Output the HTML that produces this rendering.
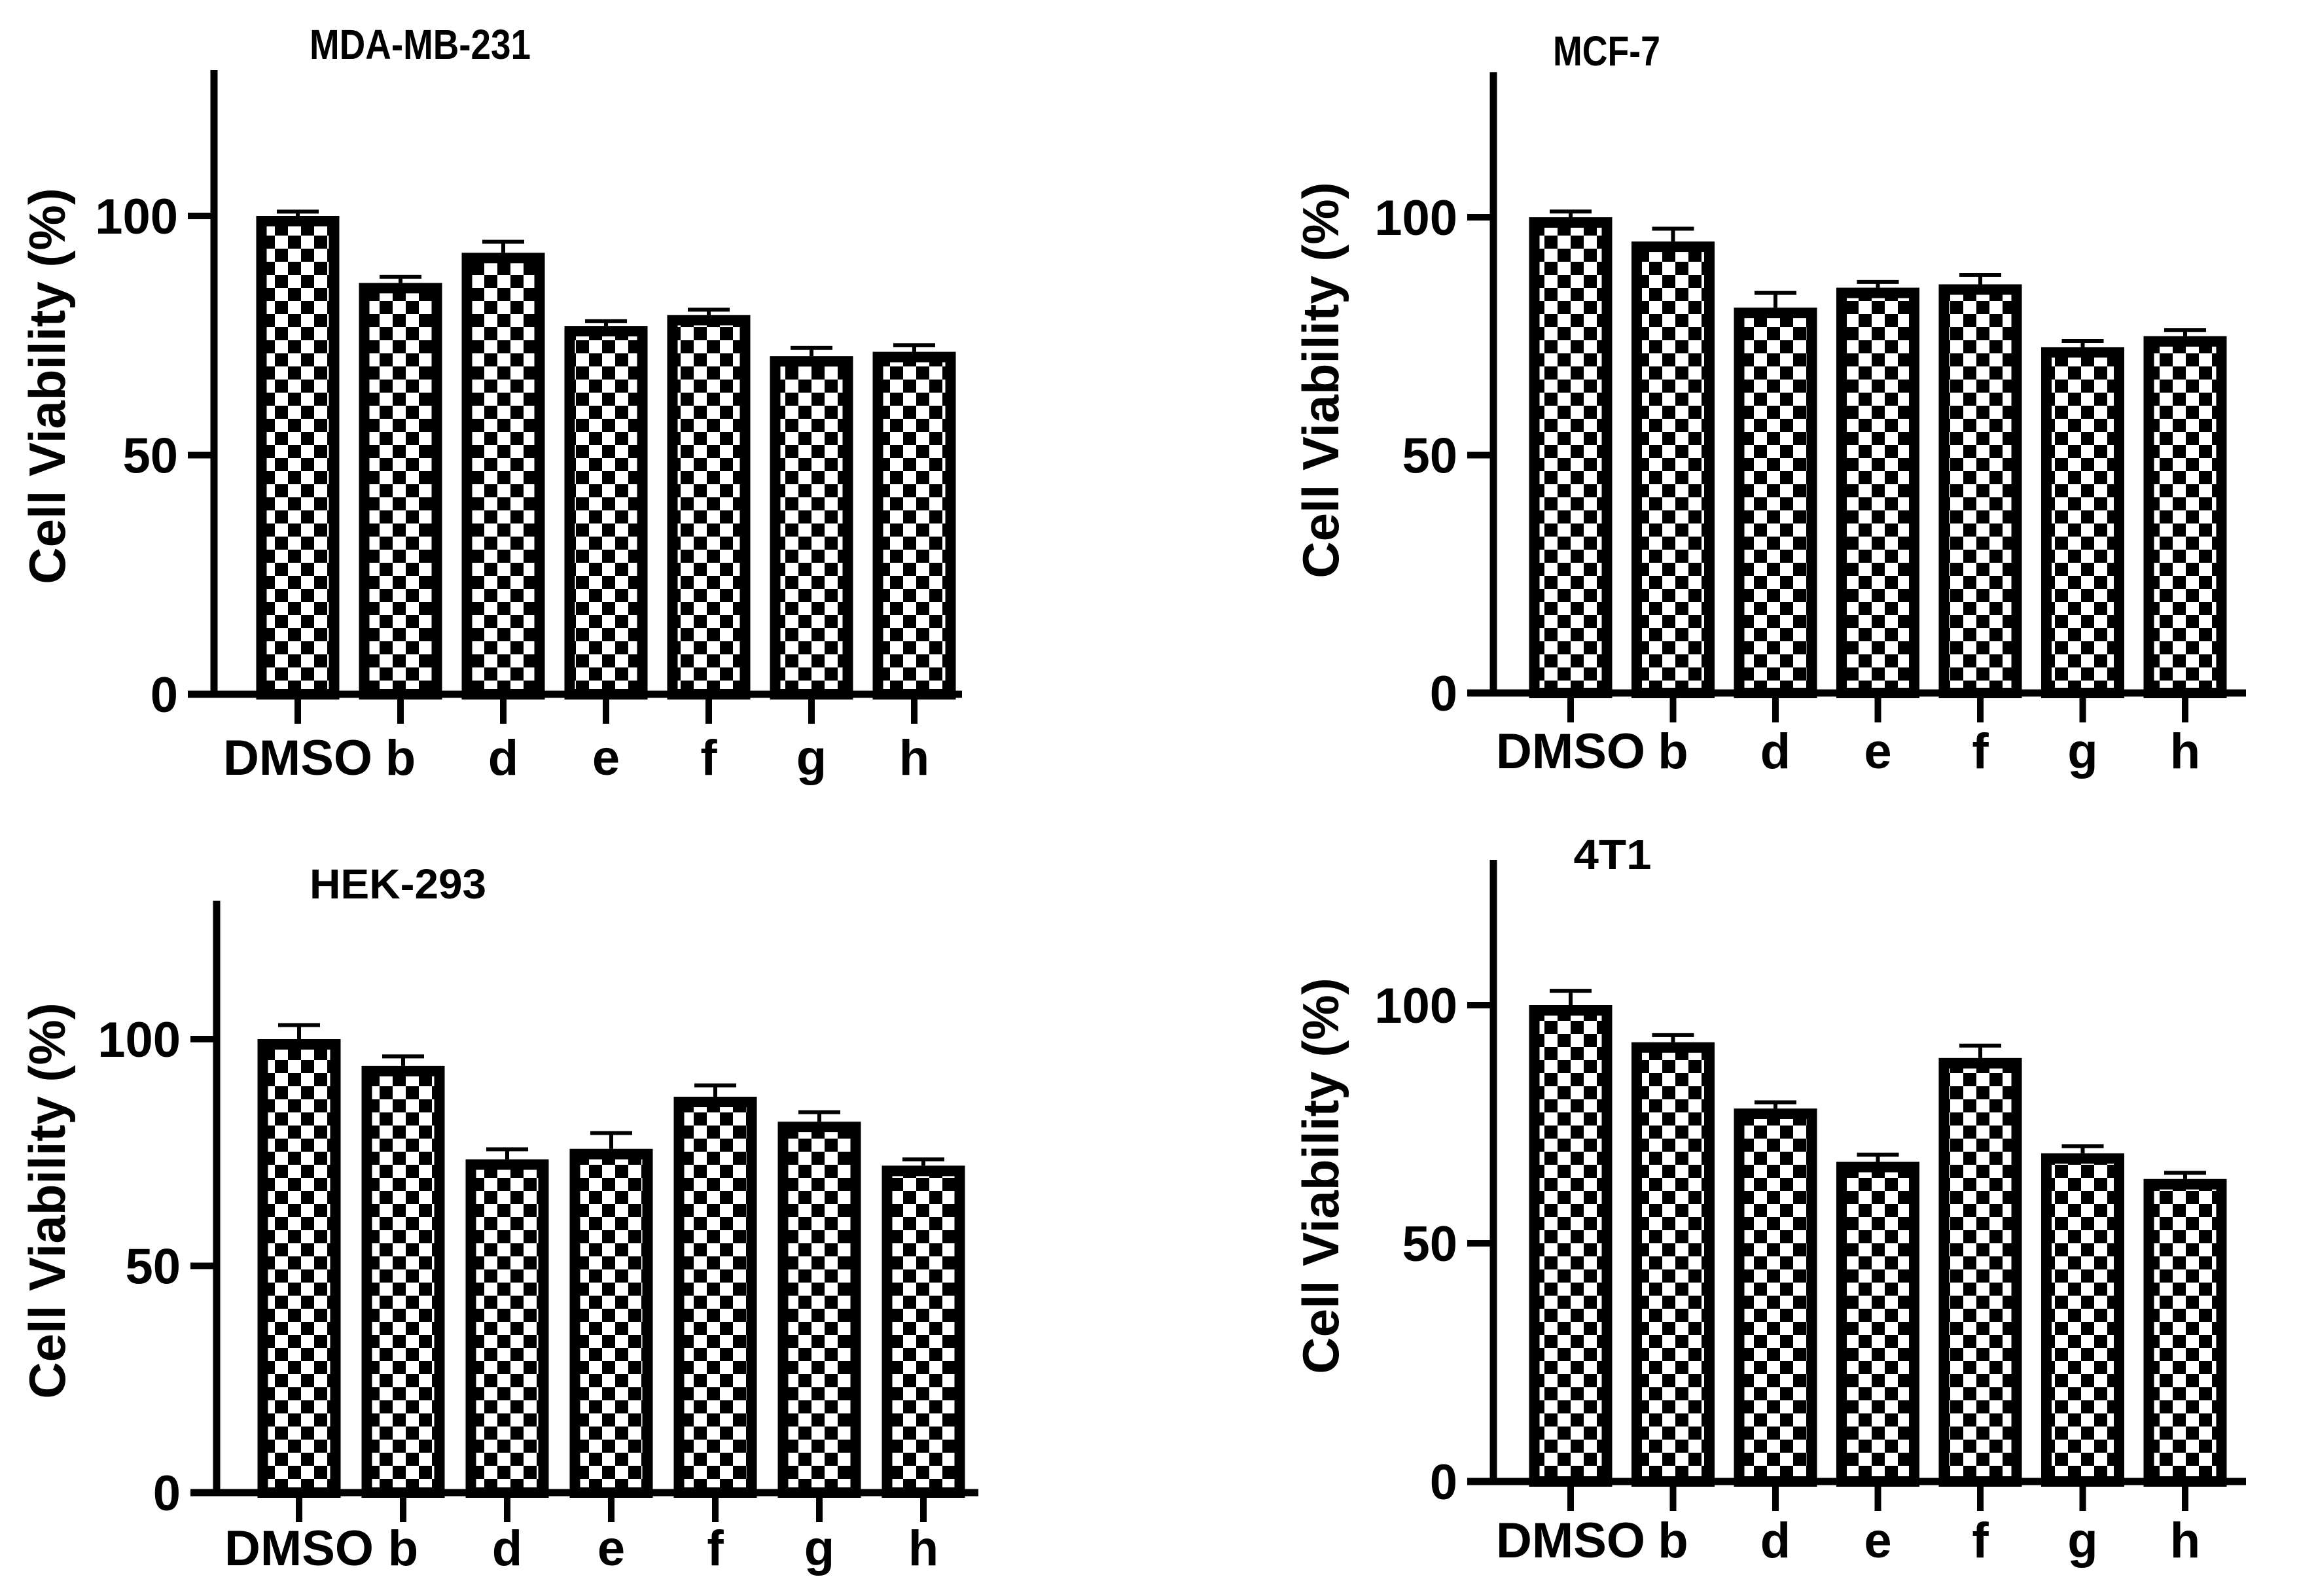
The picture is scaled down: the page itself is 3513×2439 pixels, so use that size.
<!DOCTYPE html>
<html><head><meta charset="utf-8"><style>
html,body{margin:0;padding:0;background:#fff;}
svg{display:block;}
text{font-family:"Liberation Sans",Arial,sans-serif;font-weight:bold;fill:#000;}
</style></head><body>
<svg id="fig" width="3513" height="2439" viewBox="0 0 3513 2439" xmlns="http://www.w3.org/2000/svg">
<defs>
<pattern id="checker" patternUnits="userSpaceOnUse" width="40" height="40">
<rect x="0" y="0" width="40" height="40" fill="#fff"/>
<rect x="0" y="0" width="20" height="20" fill="#000"/>
<rect x="20" y="20" width="20" height="20" fill="#000"/>
</pattern>
</defs>
</svg>
<script>
const categories = ["DMSO","b","d","e","f","g","h"];
const yTicks = [0,50,100];
const titles = ["MDA-MB-231","MCF-7","HEK-293","4T1"];
const mdaValues = [100,86.0,92.3,77.0,79.3,70.7,71.6];
const mdaErrors = [0.9,1.3,2.3,1.0,1.1,1.7,1.4];
const mcfValues = [100,94.9,81.0,85.2,85.9,72.7,75.0];
const mcfErrors = [1.2,2.7,3.1,1.2,2.0,1.3,1.3];
const hekValues = [100,94.1,73.5,75.8,87.3,81.8,72.1];
const hekErrors = [3.1,2.1,2.2,3.5,2.5,2.1,1.4];
const t41Values = [100,92.2,78.3,67.1,88.9,68.9,63.5];
const t41Errors = [3.0,1.5,1.3,1.5,2.6,1.5,1.3];

const NS = "http://www.w3.org/2000/svg";
const svg = document.getElementById('fig');
function mk(tag, attrs, parent){
  const e = document.createElementNS(NS, tag);
  for (const k in attrs) e.setAttribute(k, attrs[k]);
  parent.appendChild(e);
  return e;
}
const layouts = [
  {ax:327, base:1061, y100:330, x0:455, step:157, xEnd:1470, tx:642, ty:90, tw:338, ytx:72, yty:590, ly:1184, key:"mda"},
  {ax:2282, base:1059, y100:332, x0:2400, step:156.5, xEnd:3432, tx:2455, ty:100, tw:164, ytx:2018, yty:581, ly:1174, key:"mcf"},
  {ax:331, base:2281, y100:1588, x0:457, step:159, xEnd:1495, tx:608, ty:1373, tw:270, ytx:72, yty:1835, ly:2392, key:"hek"},
  {ax:2282, base:2264, y100:1536, x0:2400, step:156.5, xEnd:3432, tx:2464, ty:1328, tw:119, ytx:2018, yty:1797, ly:2380, key:"t41"}
];
const seriesVals = [mdaValues, mcfValues, hekValues, t41Values];
const seriesErrs = [mdaErrors, mcfErrors, hekErrors, t41Errors];

layouts.forEach((L, p) => {
  const g = mk('g', {}, svg);
  
  
  const ppu = (L.base - L.y100) / 100;
  const yS = v => L.base - v * ppu;
  const xS = i => L.x0 + i * L.step;
  const vals = seriesVals[p], errs = seriesErrs[p];
  vals.forEach((v, i) => {
    const cx = xS(i), w = 127, sw = 16;
    const top = yS(v);
    const eTop = yS(v + errs[i]);
    const eb = mk('line', {x1:cx, x2:cx, y1:top, y2:eTop, stroke:'#000', 'stroke-width':6}, g);
    
    
    const cap = mk('line', {x1:cx-32, x2:cx+32, y1:eTop, y2:eTop, stroke:'#000', 'stroke-width':6}, g);
    
    
    const r = mk('rect', {x:cx - w/2 + sw/2, y:top + sw/2, width:w - sw, height:Math.max(0, L.base - top - sw/2), fill:'url(#checker)', stroke:'#000', 'stroke-width':sw}, g);
    
    
    const tk = mk('line', {x1:cx, x2:cx, y1:L.base, y2:L.base + 45, stroke:'#000', 'stroke-width':10}, g);
    
    
    const lb = mk('text', {x:cx, y:L.ly, 'font-size':76, 'text-anchor':'middle'}, g);
    lb.textContent = categories[i];
    
    
  });
  const ya = mk('line', {x1:L.ax, x2:L.ax, y1:yS(130.5), y2:L.base + 5, stroke:'#000', 'stroke-width':11}, g);
  
  
  const xa = mk('line', {x1:L.ax - 40, x2:L.xEnd, y1:L.base, y2:L.base, stroke:'#000', 'stroke-width':11}, g);
  
  
  yTicks.forEach(t => {
    const y = yS(t);
    const tl = mk('line', {x1:L.ax - 40, x2:L.ax, y1:y, y2:y, stroke:'#000', 'stroke-width':10}, g);
    
    
    const tt = mk('text', {x:L.ax - 55, y:y + 27, 'font-size':76, 'text-anchor':'end'}, g);
    tt.textContent = String(t);
    
    
  });
  const yt = mk('text', {x:0, y:0, 'font-size':78, 'text-anchor':'middle', transform:'translate(' + (L.ytx + 27) + ',' + L.yty + ') rotate(-90)'}, g);
  yt.textContent = 'Cell Viability (%)';
  
  
  const ti = mk('text', {x:L.tx, y:L.ty, 'font-size':64, 'text-anchor':'middle', textLength:L.tw, lengthAdjust:'spacingAndGlyphs'}, g);
  ti.textContent = titles[p];
  
  
});
</script>
</body></html>
